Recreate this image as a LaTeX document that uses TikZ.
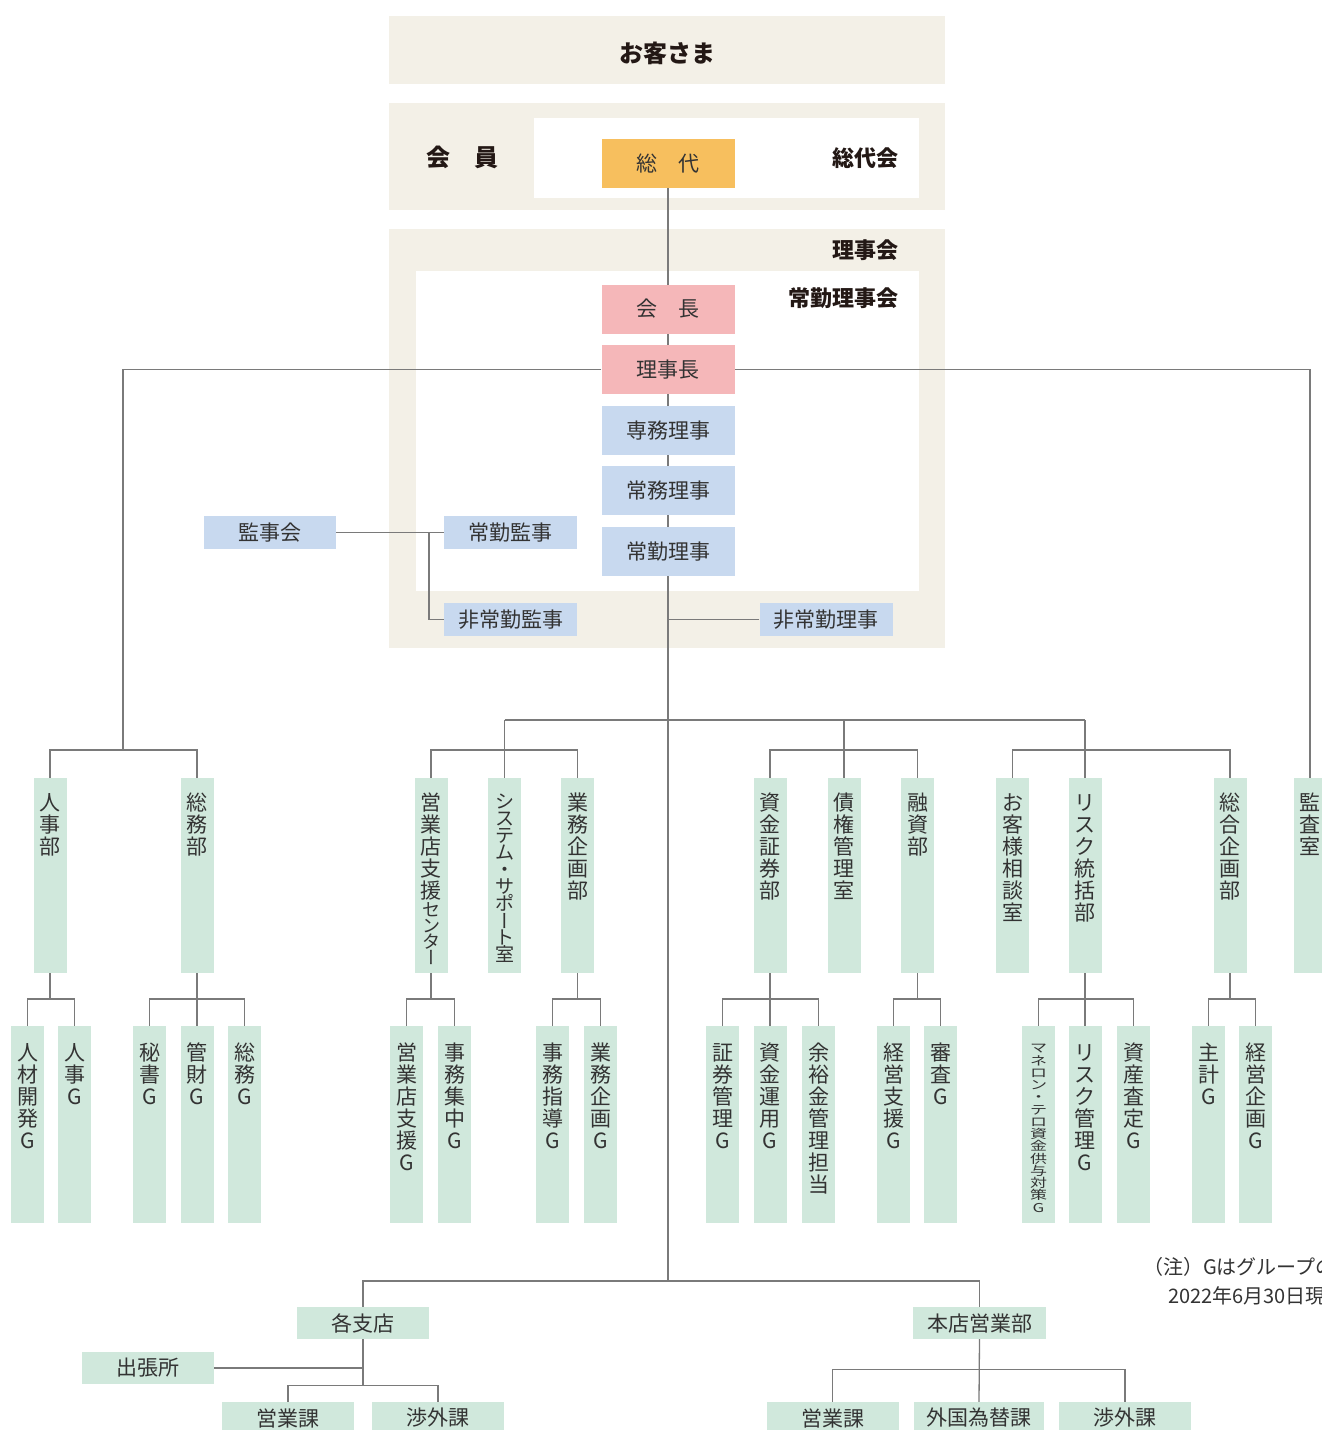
\documentclass[tikz,border=0pt]{standalone}
\usepackage{fontspec}
\usepackage{graphicx}
\setmainfont{Noto Sans CJK JP}
\definecolor{panelc}{HTML}{F3F0E7}
\definecolor{orangec}{HTML}{F7BF5E}
\definecolor{pinkc}{HTML}{F5B7B9}
\definecolor{bluec}{HTML}{C8D9EF}
\definecolor{greenc}{HTML}{D0E8DC}
\definecolor{linec}{HTML}{7A7A7A}
\definecolor{txtc}{HTML}{333333}
\definecolor{headc}{HTML}{231815}
\pgfdeclarelayer{panel}
\pgfdeclarelayer{lines}
\pgfsetlayers{panel,lines,main}
\newdimen\vth \newdimen\vtd
\newcommand\vtbar{\rotatebox[origin=c]{-90}{\hbox to 1em{ー\hss}\rule[-.12em]{0pt}{1em}}}
\newcommand\vtk{}
\newcommand\vtsetp[1]{\vth=\dimexpr#1pt/2+0.38em\relax\vtd=\dimexpr#1pt/2-0.38em\relax}
\def\vtloop#1{\ifx\relax#1\expandafter\vtstop\else\expandafter\vtdo\fi#1}
\def\vtstop#1{}
\def\vtdo#1{\ifx\vtk#1\fontsize{18}{16}\selectfont\vtsetp{16}\else\hbox to 24pt{\hss\smash{#1}\hss\vrule height\vth depth\vtd width0pt}\fi\vtloop}
\newcommand\vt[3]{\vbox{\fontsize{#1}{#2}\selectfont\offinterlineskip
  \vtsetp{#2}\vtloop#3\relax}}
\newcommand\colt[3]{\vbox to #1pt{\vskip#2pt\hbox to 33pt{\hss\vt{21}{22}{#3}\hss}\vfil}}
\newcommand\coltp[5]{\vbox to #1pt{\vskip#2pt\hbox to 33pt{\hss\vt{#3}{#4}{#5}\hss}\vfil}}
\tikzset{
 ln/.style={draw=linec,line width=1.3pt},
 hbx/.style={inner sep=0pt,minimum width=133pt,minimum height=49pt,text=txtc,font=\fontsize{21}{21}\selectfont},
 pinkbox/.style={hbx,fill=pinkc},
 bluebox/.style={hbx,fill=bluec},
 orangebox/.style={hbx,fill=orangec},
 smallblue/.style={hbx,minimum height=33pt,fill=bluec},
 greenbar/.style={hbx,minimum height=32pt,minimum width=132pt,fill=greenc},
 colbox/.style={inner sep=0pt,minimum width=33pt,fill=greenc,text=txtc,anchor=north},
 head/.style={inner sep=0pt,text=headc,font=\fontsize{22}{22}\selectfont\bfseries},
 notetext/.style={inner sep=0pt,anchor=west,text=txtc,font=\fontsize{20}{20}\selectfont},
}
\begin{document}
\begin{tikzpicture}[x=1pt,y=-1pt]
\useasboundingbox (0,0) rectangle (1322,1430);
\clip (0,0) rectangle (1322,1430);
\begin{pgfonlayer}{panel}
\fill[white] (0,0) rectangle (1322,1430);
\fill[panelc] (389,16) rectangle (945,84);
\fill[panelc] (389,103) rectangle (945,210);
\fill[white] (534,118) rectangle (919,198);
\fill[panelc] (389,229) rectangle (945,648);
\fill[white] (416,271) rectangle (919,591);
\end{pgfonlayer}
% headings
\node[head,font=\fontsize{24}{24}\selectfont\bfseries] (okyakusama) at (667,53) {お客さま};
\node[head,font=\fontsize{24}{24}\selectfont\bfseries] (kaiin) at (462,157) {会　員};
\node[head,anchor=east] (sodaikai) at (899,158) {総代会};
\node[head,anchor=east] (rijikai) at (899,250) {理事会};
\node[head,anchor=east] (jokinrijikai) at (899,298) {常勤理事会};
% officers
\node[orangebox] (sodai) at (668,163.5) {総　代};
\node[pinkbox] (kaicho) at (668,309) {会　長};
\node[pinkbox] (rijicho) at (668,369.5) {理事長};
\node[bluebox] (senmu) at (668,430.5) {専務理事};
\node[bluebox] (jomu) at (668,490.5) {常務理事};
\node[bluebox] (jokin) at (668,551.5) {常勤理事};
\node[smallblue] (jokinkanji) at (510.5,532.5) {常勤監事};
\node[smallblue] (hijokinkanji) at (510.5,619.5) {非常勤監事};
\node[smallblue] (hijokinriji) at (826,619.5) {非常勤理事};
\node[smallblue,minimum width=132pt] (kanjikai) at (270,532.5) {監事会};
% level 2
\node[colbox] (jinjibu) at (50,778) {\colt{195}{13}{人事部}};
\node[colbox] (somubu) at (197,778) {\colt{195}{13}{総務部}};
\node[colbox] (eigyoC) at (431,778) {\colt{195}{13}{営業店支援\vtk セン タ\vtbar}};
\node[colbox] (system) at (504.5,778) {\coltp{195}{15}{19}{17}{システム・サポ\vtbar ト室}};
\node[colbox] (gyomuK) at (577.5,778) {\colt{195}{13}{業務企画部}};
\node[colbox] (shikin) at (770,778) {\colt{195}{13}{資金証券部}};
\node[colbox] (saiken) at (844,778) {\colt{195}{13}{債権管理室}};
\node[colbox] (yushi) at (917.5,778) {\colt{195}{13}{融資部}};
\node[colbox] (okyaku) at (1012.5,778) {\colt{195}{13}{お客様相談室}};
\node[colbox] (risk) at (1085,778) {\colt{195}{13}{リスク統括部}};
\node[colbox] (sogo) at (1230,778) {\colt{195}{13}{総合企画部}};
\node[colbox] (kansa) at (1310,778) {\colt{195}{13}{監査室}};
% level 3
\node[colbox] (jinzai) at (27.5,1026) {\colt{197}{15}{人材開発G}};
\node[colbox] (jinjiG) at (74.5,1026) {\colt{197}{15}{人事G}};
\node[colbox] (hisho) at (149.5,1026) {\colt{197}{15}{秘書G}};
\node[colbox] (kanzai) at (197,1026) {\colt{197}{15}{管財G}};
\node[colbox] (somuG) at (244.5,1026) {\colt{197}{15}{総務G}};
\node[colbox] (eigyoG) at (406.5,1026) {\colt{197}{15}{営業店支援G}};
\node[colbox] (jimuS) at (454.5,1026) {\colt{197}{15}{事務集中G}};
\node[colbox] (jimuShido) at (552.5,1026) {\colt{197}{15}{事務指導G}};
\node[colbox] (gyomuKG) at (600.5,1026) {\colt{197}{15}{業務企画G}};
\node[colbox] (shoken) at (722.5,1026) {\colt{197}{15}{証券管理G}};
\node[colbox] (shikinU) at (770,1026) {\colt{197}{15}{資金運用G}};
\node[colbox] (yoyu) at (818.5,1026) {\colt{197}{15}{余裕金管理担当}};
\node[colbox] (keieiS) at (893.5,1026) {\colt{197}{15}{経営支援G}};
\node[colbox] (shinsa) at (940.5,1026) {\colt{197}{15}{審査G}};
\node[colbox] (maneron) at (1038.5,1026) {\vbox to 197pt{\vskip16pt\hbox to 33pt{\hss\scalebox{1}[0.72]{\vt{17}{17}{マネロン・テロ資金供与対策G}}\hss}\vfil}};
\node[colbox] (riskK) at (1085,1026) {\colt{197}{15}{リスク管理G}};
\node[colbox] (shisan) at (1133.5,1026) {\colt{197}{15}{資産査定G}};
\node[colbox] (shukei) at (1208.5,1026) {\colt{197}{15}{主計G}};
\node[colbox] (keieiK) at (1255.5,1026) {\colt{197}{15}{経営企画G}};
% branches
\node[greenbar] (kakushiten) at (363,1323) {各支店};
\node[greenbar,minimum width=133pt] (honten) at (979.5,1323) {本店営業部};
\node[greenbar] (shutcho) at (148,1368) {出張所};
\node[greenbar] (eigyo1) at (288,1418) {営業課};
\node[greenbar] (shogai1) at (438,1418) {渉外課};
\node[greenbar] (eigyo2) at (832.5,1418) {営業課};
\node[greenbar,minimum width=130pt] (gaikoku) at (979,1418) {外国為替課};
\node[greenbar] (shogai2) at (1125,1418) {渉外課};
% note
\node[notetext] (note1) at (1143,1267) {（注）Gはグループの略};
\node[notetext] (note2) at (1168,1296) {2022年6月30日現在};
% connectors
\coordinate (bb) at (668,1281);
\coordinate (jl) at (123,750);
\coordinate (kj) at (429,532.5);
\begin{pgfonlayer}{lines}
\draw[ln] (sodai.south) -- (bb);
\draw[ln] (kakushiten.north) |- (bb) -| (honten.north);
\draw[ln] (rijicho.west) -| (jl);
\draw[ln] (rijicho.east) -| (kansa.north);
\draw[ln] (kanjikai.east) -- (jokinkanji.west);
\draw[ln] (kj) |- (hijokinkanji.west);
\draw[ln] (hijokinriji.west) -- (hijokinriji.west -| sodai.south);
% level-2 buses
\draw[ln] (jinjibu.north) -- ++(0,-28) -| (somubu.north);
\draw[ln] (system.north) -- ++(0,-58) coordinate (t2);
\draw[ln] (saiken.north) -- ++(0,-58);
\draw[ln] (risk.north) -- ++(0,-58) coordinate (t4);
\draw[ln] (t2) -- (t4);
\draw[ln] (eigyoC.north) -- ++(0,-28) -| (gyomuK.north);
\draw[ln] (shikin.north) -- ++(0,-28) -| (yushi.north);
\draw[ln] (okyaku.north) -- ++(0,-28) -| (sogo.north);
% level-3 buses
\draw[ln] (jinjibu.south) -- ++(0,26);
\draw[ln] (jinzai.north) -- ++(0,-27) -| (jinjiG.north);
\draw[ln] (somubu.south) -- (kanzai.north);
\draw[ln] (hisho.north) -- ++(0,-27) -| (somuG.north);
\draw[ln] (eigyoC.south) -- ++(0,26);
\draw[ln] (eigyoG.north) -- ++(0,-27) -| (jimuS.north);
\draw[ln] (gyomuK.south) -- ++(0,26);
\draw[ln] (jimuShido.north) -- ++(0,-27) -| (gyomuKG.north);
\draw[ln] (shikin.south) -- (shikinU.north);
\draw[ln] (shoken.north) -- ++(0,-27) -| (yoyu.north);
\draw[ln] (yushi.south) -- ++(0,26);
\draw[ln] (keieiS.north) -- ++(0,-27) -| (shinsa.north);
\draw[ln] (risk.south) -- (riskK.north);
\draw[ln] (maneron.north) -- ++(0,-27) -| (shisan.north);
\draw[ln] (sogo.south) -- ++(0,26);
\draw[ln] (shukei.north) -- ++(0,-27) -| (keieiK.north);
% branch buses
\draw[ln] (kakushiten.south) -- ++(0,47);
\draw[ln] (shutcho.east) -- (shutcho.east -| kakushiten.south);
\draw[ln] (eigyo1.north) -- ++(0,-16) -| (shogai1.north);
\draw[ln] (honten.south) -- (gaikoku.north);
\draw[ln] (eigyo2.north) -- ++(0,-32) -| (shogai2.north);
\end{pgfonlayer}
\end{tikzpicture}
\end{document}
